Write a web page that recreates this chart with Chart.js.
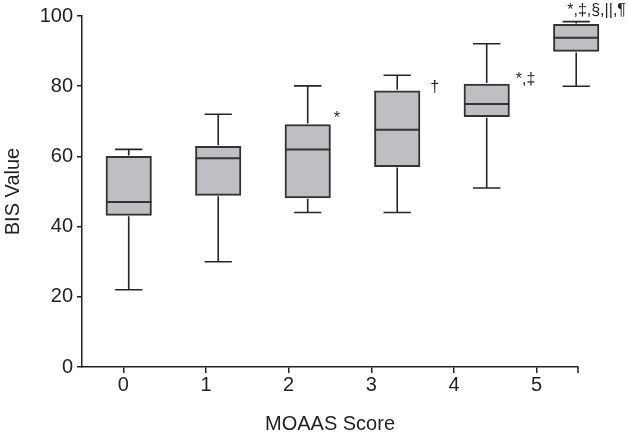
<!DOCTYPE html>
<html>
<head>
<meta charset="utf-8">
<script src="https://cdn.jsdelivr.net/npm/chart.js@4/dist/chart.umd.min.js"></script>
<style>
  html, body { margin: 0; padding: 0; background: #fff; }
  #wrap { width: 628px; height: 436px; }
</style>
</head>
<body>
<div id="wrap"><canvas id="boxChart"></canvas></div>
<script>
// MOAAS score groups and BIS box plot statistics
const scores = ['0', '1', '2', '3', '4', '5'];
const positions = [0, 1, 2, 3, 4, 5];
const mins    = [22, 30, 44, 44, 51, 80];
const q1s     = [43.2, 48.9, 48.2, 57.1, 71.3, 89.9];
const medians = [47, 59.5, 62, 67.6, 74.9, 93.8];
const q3s     = [60, 62.9, 69.1, 78.7, 80.6, 97.6];
const maxs    = [62, 72, 80.1, 83.1, 92.1, 98.4];
const marks   = ['', '', '*', '\u2020', '*,\u2021', '*,\u2021,\u00a7,||,\u00b6'];

const textColor = '#231f20';
const fontFamily = '"Liberation Sans", Arial, sans-serif';

// whiskers, medians and significance marks, drawn through the scales
const boxExtras = {
    id: 'boxExtras',
    afterDatasetsDraw(chart) {
        const ctx = chart.ctx;
        const xb = chart.scales.xb;
        const y = chart.scales.y;
        const meta = chart.getDatasetMeta(0);
        ctx.save();
        positions.forEach((p, i) => {
            const bar = meta.data[i];
            const cx = xb.getPixelForValue(p);
            const half = bar.width / 2;
            const cap = bar.width * 0.3;

            ctx.strokeStyle = '#262626';
            ctx.lineWidth = 1.6;
            ctx.beginPath();
            ctx.moveTo(cx, y.getPixelForValue(q3s[i]) - 1);
            ctx.lineTo(cx, y.getPixelForValue(maxs[i]));
            ctx.moveTo(cx - cap, y.getPixelForValue(maxs[i]));
            ctx.lineTo(cx + cap, y.getPixelForValue(maxs[i]));
            ctx.moveTo(cx, y.getPixelForValue(q1s[i]) + 1);
            ctx.lineTo(cx, y.getPixelForValue(mins[i]));
            ctx.moveTo(cx - cap, y.getPixelForValue(mins[i]));
            ctx.lineTo(cx + cap, y.getPixelForValue(mins[i]));
            ctx.stroke();

            ctx.strokeStyle = '#333';
            ctx.lineWidth = 2;
            ctx.beginPath();
            ctx.moveTo(cx - half, y.getPixelForValue(medians[i]));
            ctx.lineTo(cx + half, y.getPixelForValue(medians[i]));
            ctx.stroke();
        });

        // closing tick at the right end of the x axis
        const area = chart.chartArea;
        ctx.strokeStyle = '#222';
        ctx.lineWidth = 1.5;
        ctx.beginPath();
        ctx.moveTo(area.right, area.bottom);
        ctx.lineTo(area.right, area.bottom + 6);
        ctx.stroke();

        // significance marks next to the boxes
        const offs = [null, null, [26, -6], [33, -3], [29, -5], [-9, -11]];
        ctx.fillStyle = textColor;
        ctx.font = '16px ' + fontFamily;
        ctx.textAlign = 'left';
        ctx.textBaseline = 'middle';
        marks.forEach((m, i) => {
            if (!m) return;
            const cx = xb.getPixelForValue(positions[i]);
            const top = i === 5 ? maxs[i] : q3s[i];
            ctx.fillText(m, cx + offs[i][0], y.getPixelForValue(top) + offs[i][1]);
        });
        ctx.restore();
    }
};

const ctx = document.getElementById('boxChart').getContext('2d');
const boxChart = new Chart(ctx, {
    type: 'bar',
    data: {
        labels: scores,
        datasets: [{
            label: 'BIS',
            xAxisID: 'xb',
            data: positions.map((p, i) => ({ x: p, y: [q1s[i], q3s[i]] })),
            backgroundColor: '#bebfc3',
            borderColor: '#333333',
            borderWidth: 2,
            borderSkipped: false,
            barThickness: 45.5,
            clip: false
        }]
    },
    options: {
        responsive: true,
        maintainAspectRatio: false,
        animation: false,
        layout: { padding: { top: 15, right: 50, bottom: 0, left: 0 } },
        plugins: {
            legend: { display: false },
            tooltip: { enabled: false }
        },
        scales: {
            x: {
                type: 'category',
                labels: scores,
                offset: true,
                grid: {
                    offset: false,
                    drawOnChartArea: false,
                    drawTicks: true,
                    tickLength: 6,
                    color: '#222',
                    lineWidth: 1.5
                },
                border: { color: '#222', width: 1.5 },
                ticks: {
                    color: textColor,
                    padding: 0,
                    font: { family: fontFamily, size: 20 }
                },
                title: {
                    display: true,
                    text: 'MOAAS Score',
                    color: textColor,
                    padding: { top: 4, bottom: 0 },
                    font: { family: fontFamily, size: 20 }
                },
                afterFit: (scale) => { scale.height = 69; }
            },
            xb: {
                type: 'linear',
                display: false,
                offset: false,
                min: -0.522,
                max: 5.02
            },
            y: {
                min: 0,
                max: 100,
                grid: {
                    drawOnChartArea: false,
                    drawTicks: true,
                    tickLength: 5,
                    color: '#222',
                    lineWidth: 1.5
                },
                border: { color: '#222', width: 1.5 },
                ticks: {
                    stepSize: 20,
                    color: textColor,
                    padding: 4,
                    font: { family: fontFamily, size: 20 }
                },
                title: {
                    display: true,
                    text: 'BIS Value',
                    color: textColor,
                    padding: { top: 1, bottom: 0 },
                    font: { family: fontFamily, size: 20 }
                },
                afterFit: (scale) => { scale.width = 82; }
            }
        }
    },
    plugins: [boxExtras]
});
</script>
</body>
</html>
